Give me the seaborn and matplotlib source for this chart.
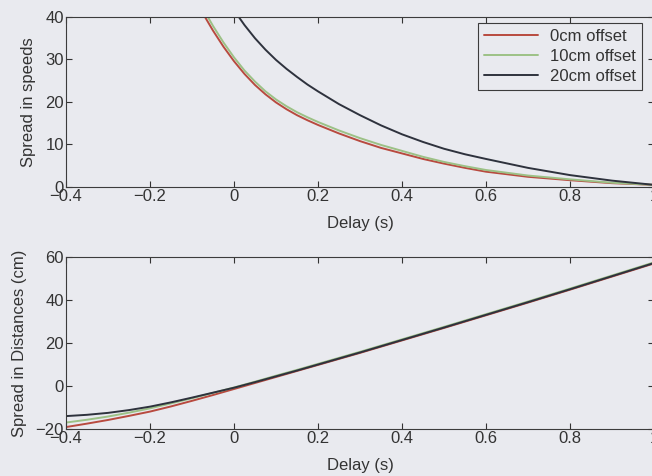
import numpy as np
import pandas as pd
import matplotlib
matplotlib.use("Agg")
import matplotlib.pyplot as plt
import seaborn as sns

# ---- data -------------------------------------------------------------
offsets = ["0cm offset", "10cm offset", "20cm offset"]
colors = ["#b84a3f", "#9cc186", "#2e323d"]

# Spread in speeds vs delay (top panel)
delay_speed_0 = [-0.075, -0.05, -0.025, 0.0, 0.025, 0.05, 0.075, 0.1, 0.125, 0.15,
                 0.175, 0.2, 0.25, 0.3, 0.35, 0.4, 0.45, 0.5, 0.55, 0.6,
                 0.7, 0.8, 0.9, 1.0]
speed_0 = [41.0, 36.8, 33.0, 29.6, 26.6, 24.0, 21.8, 19.9, 18.3, 16.9,
           15.7, 14.6, 12.6, 10.8, 9.2, 7.9, 6.6, 5.5, 4.5, 3.6,
           2.4, 1.6, 0.9, 0.5]

delay_speed_10 = delay_speed_0
speed_10 = [42.2, 37.9, 34.0, 30.5, 27.4, 24.8, 22.5, 20.6, 19.0, 17.6,
            16.4, 15.3, 13.3, 11.5, 9.9, 8.5, 7.1, 5.9, 4.9, 4.0,
            2.7, 1.8, 1.0, 0.5]

delay_speed_20 = [0.0, 0.025, 0.05, 0.075, 0.1, 0.125, 0.15, 0.175, 0.2, 0.25,
                  0.3, 0.35, 0.4, 0.45, 0.5, 0.55, 0.6, 0.7, 0.8, 0.9, 1.0]
speed_20 = [41.6, 38.1, 35.0, 32.3, 29.9, 27.8, 25.9, 24.1, 22.5, 19.5,
            16.9, 14.5, 12.4, 10.6, 9.0, 7.7, 6.6, 4.5, 2.8, 1.5, 0.5]

# Spread in distances vs delay (bottom panel)
delay_dist = [-0.4, -0.35, -0.3, -0.25, -0.2, -0.15, -0.1, -0.05, 0.0, 0.05,
              0.1, 0.15, 0.2, 0.3, 0.4, 0.5, 0.6, 0.7, 0.8, 0.9, 1.0]
dist_0 = [-19.1, -17.5, -15.8, -13.9, -11.9, -9.5, -6.9, -4.2, -1.4, 1.4,
          4.2, 7.0, 9.8, 15.4, 21.2, 27.0, 32.9, 38.8, 44.8, 50.9, 57.0]
dist_10 = [-17.0, -15.7, -14.2, -12.4, -10.4, -8.1, -5.7, -3.2, -0.7, 2.0,
           4.8, 7.5, 10.3, 15.9, 21.7, 27.5, 33.4, 39.3, 45.3, 51.4, 57.5]
dist_20 = [-14.0, -13.4, -12.5, -11.2, -9.6, -7.6, -5.4, -3.1, -0.8, 1.8,
           4.5, 7.2, 10.0, 15.6, 21.4, 27.2, 33.1, 39.0, 45.0, 51.1, 57.2]

x_ticks = [-0.4, -0.2, 0, 0.2, 0.4, 0.6, 0.8, 1]
x_ticklabels = ["\u22120.4", "\u22120.2", "0", "0.2", "0.4", "0.6", "0.8", "1"]
speed_ticks = [0, 10, 20, 30, 40]
dist_ticks = [-20, 0, 20, 40, 60]
dist_ticklabels = ["\u221220", "0", "20", "40", "60"]

speed_df = pd.concat([
    pd.DataFrame({"Delay": delay_speed_0, "Spread": speed_0, "Offset": offsets[0]}),
    pd.DataFrame({"Delay": delay_speed_10, "Spread": speed_10, "Offset": offsets[1]}),
    pd.DataFrame({"Delay": delay_speed_20, "Spread": speed_20, "Offset": offsets[2]}),
], ignore_index=True)

dist_df = pd.concat([
    pd.DataFrame({"Delay": delay_dist, "Spread": d, "Offset": o})
    for d, o in zip([dist_0, dist_10, dist_20], offsets)
], ignore_index=True)

# ---- style ------------------------------------------------------------
bg = "#e9eaef"
ink = "#333333"
fs = 12
sns.set_style("ticks")
plt.rcParams["font.family"] = ["Liberation Sans", "DejaVu Sans"]
plt.rcParams.update({
    "font.size": fs,
    "text.color": ink,
    "axes.labelcolor": ink,
    "xtick.color": ink,
    "ytick.color": ink,
    "axes.edgecolor": "#3c3c3c",
    "axes.linewidth": 0.8,
    "xtick.direction": "in",
    "ytick.direction": "in",
    "xtick.major.size": 4.0,
    "ytick.major.size": 4.0,
    "xtick.major.width": 0.8,
    "ytick.major.width": 0.8,
    "figure.facecolor": bg,
    "axes.facecolor": bg,
    "savefig.facecolor": bg,
})

W, H = 652, 476
fig = plt.figure(figsize=(W / 100, H / 100), dpi=100)
ax_top = fig.add_axes([66 / W, 1 - 187 / H, 588 / W, 170 / H])
ax_bot = fig.add_axes([66 / W, 1 - 429 / H, 588 / W, 172 / H])

palette = dict(zip(offsets, colors))

sns.lineplot(data=speed_df, x="Delay", y="Spread", hue="Offset", hue_order=offsets,
             palette=palette, estimator=None, sort=False, linewidth=1.4,
             ax=ax_top, legend=True)
sns.lineplot(data=dist_df, x="Delay", y="Spread", hue="Offset", hue_order=offsets,
             palette=palette, estimator=None, sort=False, linewidth=1.4,
             ax=ax_bot, legend=False)

for ax in (ax_top, ax_bot):
    ax.set_xlim(-0.4, 1.0)
    ax.set_xticks(x_ticks)
    ax.set_xticklabels(x_ticklabels)
    ax.tick_params(top=True, right=True, labelsize=fs, pad=1.5)
    for s in ax.spines.values():
        s.set_visible(True)
    ax.set_xlabel("Delay (s)", fontsize=fs, labelpad=8.5)

ax_top.set_ylim(0, 40)
ax_top.set_yticks(speed_ticks)
ax_top.set_ylabel("Spread in speeds", fontsize=fs, labelpad=6.5)

ax_bot.set_ylim(-20, 60)
ax_bot.set_yticks(dist_ticks)
ax_bot.set_yticklabels(dist_ticklabels)
ax_bot.set_ylabel("Spread in Distances (cm)", fontsize=fs, labelpad=6.5)

handles, labels = ax_top.get_legend_handles_labels()
leg = ax_top.legend(handles, labels, loc="upper right",
                    bbox_to_anchor=(642 / W, 1 - 23 / H),
                    bbox_transform=fig.transFigure, borderaxespad=0,
                    frameon=True, fancybox=False, fontsize=fs,
                    handlelength=3.25, handletextpad=0.7, labelspacing=0.3,
                    borderpad=0.35)
leg.get_frame().set_edgecolor("#3c3c3c")
leg.get_frame().set_linewidth(0.8)
leg.get_frame().set_facecolor(bg)
leg.get_frame().set_alpha(1)

fig.savefig("out.png", dpi=100)
